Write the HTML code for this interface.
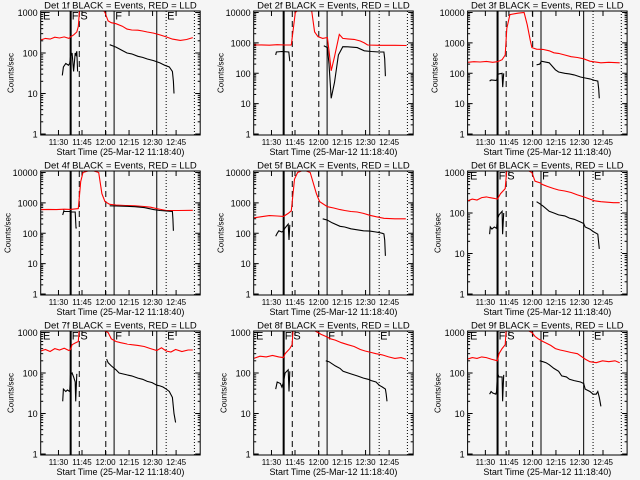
<!DOCTYPE html>
<html><head><meta charset="utf-8"><style>
html,body{margin:0;padding:0;background:#f5f5f5;}
svg{display:block;font-family:"Liberation Sans",sans-serif;}
</style></head><body>
<svg id="chart" width="640" height="480" viewBox="0 0 640 480">
<rect width="640" height="480" fill="#f5f5f5"/>
</svg>
<script>
// ---- data (t = minutes after 11:18:40) ----
const panelNames = ["1f","2f","3f","4f","5f","6f","7f","8f","9f"];
const panelDecades = [3,4,4,4,4,3,3,3,3];
const tickTimes = [11.33,26.33,41.33,56.33,71.33,86.33];
const tickLabels = ["11:30","11:45","12:00","12:15","12:30","12:45"];
const markerTimes = [19.1,24.6,41.5,46.8,74.0,80.0,98.0];
const markerStyles = ["thick","dash","dash","solid","solid","dot","dot"];
const markerLetters = ["E","F","S","F","E"];
const markerLetterTimes = [1.5,19.8,25.3,47.5,80.6];

const redT = [
 [0,3,6,9,12,15,18,19,21,23,24,25,26,41,43,45,48,52,55,58,62,65,68,72,76,80,84,89,93,97],
 [0,5,10,15,20,24,26.5,30,36.7,38.8,41,44,47,48.3,49.4,51.5,54.6,56.8,60,64,68,70.5,72.6,80,90,97.5],
 [0,4,8,12,16,19,22,24,25,27,32,36,38,40,41,44,48,52,55,58,62,66,70,74,78,85,90,97],
 [0,5,10,15,19,24,25.5,27,32,37,39,41,44,48,54,60,66,70,74,80,88,97],
 [0,5,10,15,19,22,24,26,28,32,36,40,42,47,51,55,58,62,66,70,74,78,83,90,97],
 [0,3,6,9,12,14,17,19,21,24,25.5,41,43,46,48,51,55,58,62,66,70,74,78,81,85,89,93,97],
 [0,3,6,9,12,15,18,19,20,22,24,25,43,45,48,51,55,58,62,66,70,74,77,80,83,86,90,94,97],
 [0,4,8,12,16,19,20,23,24.5,25.5,41,43,46,49,52,56,60,64,68,71,75,78,82,86,90,94,97],
 [0,3,6,9,12,15,19,20,22,24,25,41,43,45,48,50,53,56,59,62,66,70,73,75,78,82,86,90,94,97]
];
const redV = [
 [210,230,220,245,235,250,230,250,280,330,450,1500,5000,1000,620,560,530,460,390,370,365,350,330,310,280,250,220,205,215,240],
 [850,860,840,870,850,860,10000,14000,14000,2300,1600,1400,1500,400,120,350,1900,1400,1350,1300,1150,1000,850,830,830,820],
 [230,240,235,245,230,240,280,400,3000,8500,9500,10000,4000,1200,700,620,610,550,470,450,400,350,330,300,250,220,230,220],
 [600,610,600,620,610,650,5000,10000,12000,10000,2000,1100,900,850,820,800,760,720,650,560,560,570],
 [320,350,380,370,360,450,550,6000,10000,12000,10000,2000,1100,750,680,600,560,520,500,450,390,350,310,300,300],
 [200,220,210,240,250,240,230,220,300,400,2000,1000,610,560,500,450,400,370,350,320,280,250,220,200,190,185,180,180],
 [350,380,340,400,370,410,360,380,500,550,600,2000,1000,700,600,560,520,500,480,450,400,360,420,350,330,380,340,370,370],
 [230,260,250,270,250,240,300,400,500,2000,1000,900,800,700,650,560,500,450,380,350,320,300,280,250,230,240,220],
 [220,240,230,250,240,220,200,300,400,500,2000,1000,800,700,600,550,480,400,370,350,320,300,250,220,190,180,200,190,200,180]
];
const blackT = [
 [13.8,14.5,16,17.7,18.5,19,20,21,22,22.5,23,23.5,24,44,46,48,52,55,58,62,65,68,72,76,79,82,84,84.6,85],
 [14,14.5,18,22.4,23,30,44.7,47,48,49.4,51.5,54,56.8,60,66,70.5,75,80,83,83.5,84],
 [14,15,18,18.6,19,20,22,22.4,23,30,44,46,47,52,56,58,62,65,68,72,75,78,81,83,83.6,84],
 [14,14.8,15,18.5,19,22,22.5,23,30,44,48,55,60,66,72,76,80,84,84.3,84.6],
 [14,15,16,18,19,20,22,22.5,23,30,44,47,50,55,58,62,66,70,74,78,80,82,83,83.5,84],
 [14,14.5,15.5,17,18.5,19,20,22,22.3,23,30,44,46,48,52,55,58,62,65,68,72,74,75,78,80,83,84],
 [14,14.5,16,17,18.5,19,20,21,22,22.3,23,30,42,43,45,48,50,55,58,62,65,68,71,74,76,78,80,82,84,85,86],
 [14,15,17,18,19,20,22,22.5,23,30,46,48,52,55,57,62,66,70,73,75,78,80,82,84,84.5,85],
 [14,15,16,18,18.5,19,20,22,22.3,23,30,46,48,50,52,55,58,60,63,65,68,72,74,75,78,80,82,83,84,85]
];
const blackV = [
 [28,45,55,50,55,80,100,35,100,90,110,35,null,160,150,140,115,100,95,83,78,71,65,57,50,45,35,20,10],
 [400,500,520,500,250,null,800,700,200,15,50,400,750,740,700,550,520,500,500,300,80],
 [55,60,58,60,90,95,100,35,100,null,190,200,250,220,130,110,100,95,88,75,70,65,58,55,30,15],
 [400,550,520,520,500,500,150,150,null,800,790,770,750,700,600,560,540,520,300,120],
 [80,100,120,110,120,150,200,60,190,null,300,270,220,170,160,140,130,120,118,110,105,100,95,60,18],
 [30,45,40,45,42,70,90,110,30,100,null,190,170,150,110,100,90,85,75,70,60,55,45,40,35,30,13],
 [20,40,35,38,35,90,100,80,60,20,95,null,220,180,150,120,100,90,85,75,70,62,58,50,48,45,40,35,25,10,6],
 [40,60,55,45,60,100,120,35,110,null,200,190,150,130,110,95,85,75,70,65,60,50,45,40,30,20],
 [30,35,32,30,35,100,80,80,20,90,null,200,190,180,160,130,110,85,80,70,65,60,55,40,35,30,30,35,25,15]
];

// ---- layout ----
const svg = document.getElementById('chart');
const NS = 'http://www.w3.org/2000/svg';
const colLeft = [40.7,253.7,467.6];
const plotW = 159.5, topOff = 11, botOff = 135;
function mk(tag, attrs, parent){
  const e = document.createElementNS(NS, tag);
  for (const k in attrs) e.setAttribute(k, attrs[k]);
  (parent||svg).appendChild(e); return e;
}
panelNames.forEach((nm, i) => {
  const col = i % 3, row = Math.floor(i/3);
  const L = colLeft[col], T = row*160 + topOff, B = row*160 + botOff;
  const dec = panelDecades[i];
  const D = (B - 1 - T - 1.5) / dec;
  const xS = t => L + t * plotW / 101.7;
  const yS = v => (B - 1) - Math.log10(v) * D;
  const g = mk('g', {});
  
  
  const cp = mk('clipPath', {id: 'cp' + i}, g);
  mk('rect', {x: L, y: T, width: plotW, height: B - T}, cp);
  const ti = mk('text', {x: L + plotW/2, y: row*160 + 8.5, 'text-anchor': 'middle', 'font-size': 9.5}, g);
  ti.textContent = 'Det ' + nm + ' BLACK = Events, RED = LLD';
  
  
  const yt = mk('text', {x: 0, y: 0, 'text-anchor': 'middle', 'font-size': 8, transform: 'translate(' + (dec===3?L-27:L-30) + ',' + ((T+B)/2) + ') rotate(-90)'}, g);
  yt.textContent = 'Counts/sec';
  
  
  for (let d = 0; d <= dec; d++) {
    const y = yS(Math.pow(10, d));
    mk('line', {x1: L, x2: L + 5, y1: y, y2: y, stroke: '#000'}, g);
    mk('line', {x1: L + plotW, x2: L + plotW - 5, y1: y, y2: y, stroke: '#000'}, g);
    const tl = mk('text', {x: L - 3, y: y + 3.5, 'text-anchor': 'end', 'font-size': 9}, g);
    tl.textContent = String(Math.pow(10, d));
    
    
    if (d < dec) for (let m = 2; m <= 9; m++) {
      const ym = yS(m * Math.pow(10, d));
      mk('line', {x1: L, x2: L + 2.5, y1: ym, y2: ym, stroke: '#000'}, g);
      mk('line', {x1: L + plotW, x2: L + plotW - 2.5, y1: ym, y2: ym, stroke: '#000'}, g);
    }
  }
  tickTimes.forEach((t, k) => {
    const x = xS(t);
    mk('line', {x1: x, x2: x, y1: B, y2: B - 5, stroke: '#000'}, g);
    mk('line', {x1: x, x2: x, y1: T, y2: T + 5, stroke: '#000'}, g);
    const xl = mk('text', {x: x, y: row*160 + 145, 'text-anchor': 'middle', 'font-size': 8}, g);
    xl.textContent = tickLabels[k];
    
    
  });
  const xt = mk('text', {x: L + plotW/2, y: row*160 + 155, 'text-anchor': 'middle', 'font-size': 9}, g);
  xt.textContent = 'Start Time (25-Mar-12 11:18:40)';
  
  
  markerTimes.forEach((t, k) => {
    const x = xS(t), s = markerStyles[k];
    const ln = mk('line', {x1: x, x2: x, y1: T, y2: B, stroke: '#000', 'stroke-width': s==='thick'?2:1,
      'stroke-dasharray': s==='dash'?'6,4':(s==='dot'?'1,2':'none')}, g);
    
    
  });
  if (dec === 3) markerLetterTimes.forEach((t, k) => {
    const lt = mk('text', {x: xS(t), y: T + 8.5, 'font-size': 11}, g);
    lt.textContent = markerLetters[k];
    
    
  });
  function path(ts, vs){
    let d = '', pen = false;
    ts.forEach((t, k) => {
      const v = vs[k];
      if (v === null) { pen = false; return; }
      d += (pen ? 'L' : 'M') + xS(t).toFixed(1) + ',' + yS(v).toFixed(1);
      pen = true;
    });
    return d;
  }
  const rp = mk('path', {d: path(redT[i], redV[i]), fill: 'none', stroke: '#ff0000', 'stroke-width': 1.1, 'clip-path': 'url(#cp' + i + ')'}, g);
  
  
  const bp = mk('path', {d: path(blackT[i], blackV[i]), fill: 'none', stroke: '#000', 'stroke-width': 1.1, 'clip-path': 'url(#cp' + i + ')'}, g);
  
  
  const box = mk('rect', {x: L, y: T, width: plotW, height: B - T, fill: 'none', stroke: '#000', 'stroke-width': 1}, g);
  
  
});
</script>
</body></html>
